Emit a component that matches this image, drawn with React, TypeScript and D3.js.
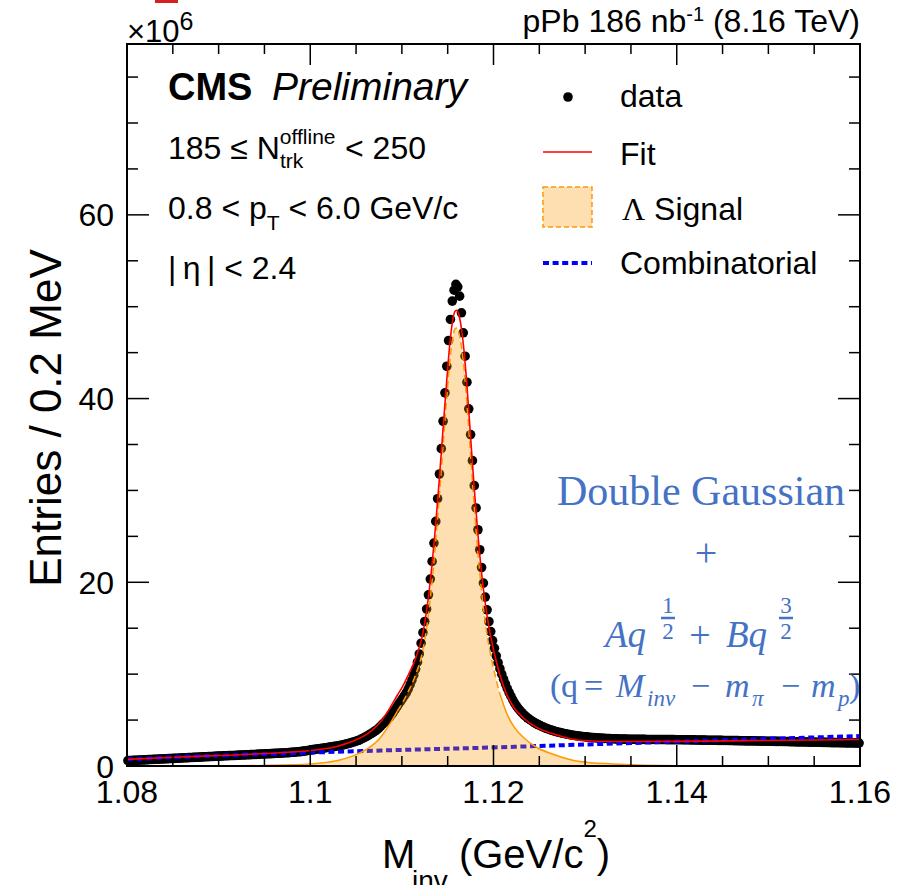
import React, { useRef, useEffect } from "react";
import * as d3 from "d3";

const SANS = "'Liberation Sans', Arial, Helvetica, sans-serif";
const SERIF = "'Liberation Serif', 'Times New Roman', serif";
const NOTE_BLUE = "#4472c4";

// entries per 0.2 MeV bin (x10^6), first bin starts at 1.080 GeV
const binLow = 1.08;
const binWidth = 0.0002;
const entries = [
  0.58, 0.59, 0.60, 0.61, 0.62, 0.63, 0.64, 0.65, 0.66, 0.67,
  0.68, 0.69, 0.70, 0.71, 0.72, 0.73, 0.74, 0.75, 0.76, 0.77,
  0.78, 0.79, 0.80, 0.81, 0.82, 0.83, 0.84, 0.85, 0.86, 0.87,
  0.88, 0.89, 0.90, 0.91, 0.92, 0.93, 0.94, 0.95, 0.96, 0.97,
  0.98, 0.99, 1.00, 1.01, 1.02, 1.03, 1.04, 1.05, 1.06, 1.07,
  1.08, 1.09, 1.10, 1.11, 1.12, 1.13, 1.14, 1.14, 1.15, 1.16,
  1.17, 1.18, 1.19, 1.20, 1.21, 1.22, 1.23, 1.24, 1.25, 1.26,
  1.27, 1.28, 1.29, 1.30, 1.31, 1.32, 1.33, 1.34, 1.35, 1.36,
  1.37, 1.38, 1.39, 1.40, 1.41, 1.42, 1.44, 1.45, 1.46, 1.48,
  1.49, 1.51, 1.53, 1.55, 1.57, 1.59, 1.62, 1.65, 1.68, 1.71,
  1.75, 1.78, 1.81, 1.84, 1.87, 1.90, 1.93, 1.96, 1.99, 2.02,
  2.05, 2.08, 2.11, 2.14, 2.17, 2.20, 2.24, 2.28, 2.33, 2.38,
  2.43, 2.49, 2.55, 2.61, 2.67, 2.73, 2.80, 2.90, 3.00, 3.10,
  3.21, 3.32, 3.44, 3.56, 3.69, 3.82, 3.95, 4.15, 4.35, 4.55,
  4.75, 4.95, 5.15, 5.35, 5.62, 5.90, 6.20, 6.50, 6.82, 7.10,
  7.40, 7.70, 8.00, 8.40, 8.85, 9.35, 9.90, 10.55, 11.30, 12.20,
  13.37, 14.53, 15.73, 17.08, 18.64, 20.35, 22.27, 24.27, 26.63, 29.10,
  31.79, 34.55, 37.53, 40.62, 43.52, 46.32, 48.61, 50.61, 51.80, 52.43,
  52.17, 51.15, 49.34, 47.16, 44.61, 41.78, 38.88, 36.08, 33.24, 30.52,
  28.09, 25.72, 23.54, 21.61, 19.91, 18.39, 17.00, 15.73, 14.64, 13.66,
  12.83, 11.99, 11.25, 10.60, 10.00, 9.45, 8.95, 8.45, 8.00, 7.60,
  7.20, 6.85, 6.55, 6.28, 6.03, 5.80, 5.60, 5.42, 5.25, 5.10,
  4.96, 4.83, 4.71, 4.60, 4.49, 4.39, 4.30, 4.21, 4.13, 4.05,
  3.98, 3.91, 3.85, 3.79, 3.73, 3.68, 3.63, 3.58, 3.54, 3.50,
  3.46, 3.42, 3.38, 3.35, 3.32, 3.29, 3.26, 3.23, 3.21, 3.19,
  3.17, 3.15, 3.13, 3.11, 3.09, 3.07, 3.06, 3.05, 3.03, 3.02,
  3.01, 3.00, 2.99, 2.98, 2.97, 2.96, 2.95, 2.95, 2.94, 2.94,
  2.93, 2.93, 2.93, 2.92, 2.92, 2.92, 2.91, 2.91, 2.91, 2.90,
  2.90, 2.90, 2.90, 2.89, 2.89, 2.89, 2.89, 2.89, 2.88, 2.88,
  2.88, 2.88, 2.88, 2.88, 2.87, 2.87, 2.87, 2.87, 2.87, 2.86,
  2.86, 2.86, 2.86, 2.85, 2.85, 2.85, 2.85, 2.84, 2.84, 2.84,
  2.83, 2.83, 2.83, 2.82, 2.82, 2.82, 2.81, 2.81, 2.81, 2.80,
  2.80, 2.80, 2.79, 2.79, 2.79, 2.78, 2.78, 2.78, 2.77, 2.77,
  2.77, 2.76, 2.76, 2.76, 2.75, 2.75, 2.75, 2.74, 2.74, 2.74,
  2.73, 2.73, 2.73, 2.72, 2.72, 2.72, 2.71, 2.71, 2.70, 2.70,
  2.70, 2.69, 2.69, 2.68, 2.68, 2.68, 2.67, 2.67, 2.66, 2.66,
  2.66, 2.65, 2.65, 2.64, 2.64, 2.63, 2.63, 2.63, 2.62, 2.62,
  2.61, 2.61, 2.60, 2.60, 2.60, 2.59, 2.59, 2.58, 2.58, 2.57,
  2.57, 2.57, 2.56, 2.56, 2.55, 2.55, 2.55, 2.54, 2.54, 2.53,
  2.53, 2.53, 2.52, 2.52, 2.51, 2.51, 2.51, 2.50, 2.50, 2.50,
];

// total fit
const fitMass = [
  1.0800, 1.0850, 1.0900, 1.0950, 1.1000, 1.1030, 1.1050, 1.1065, 1.1075, 1.1085,
  1.1095, 1.1101, 1.1107, 1.1113, 1.1117, 1.1121, 1.1125, 1.1129, 1.1133, 1.1137,
  1.1141, 1.1145, 1.1149, 1.1152, 1.1155, 1.1158, 1.1160, 1.1162, 1.1165, 1.1168,
  1.1171, 1.1175, 1.1179, 1.1183, 1.1187, 1.1191, 1.1195, 1.1199, 1.1203, 1.1207,
  1.1214, 1.1222, 1.1233, 1.1247, 1.1265, 1.1294, 1.1330, 1.1400, 1.1500, 1.1600,
];
const fitValues = [
  0.72, 0.95, 1.14, 1.36, 1.68, 2.15, 2.85, 3.70, 4.60, 6.00,
  7.70, 8.70, 9.90, 11.20, 12.30, 13.60, 15.60, 18.40, 22.00, 26.40,
  31.40, 36.80, 42.00, 45.60, 48.20, 49.50, 49.60, 49.20, 47.60, 45.00,
  41.40, 35.80, 30.20, 25.20, 21.00, 17.70, 15.10, 13.10, 11.40, 9.90,
  7.90, 6.40, 5.20, 4.20, 3.50, 2.80, 2.66, 2.68, 2.78, 2.88,
];

// Lambda signal (double Gaussian)
const signalMass = [
  1.0800, 1.0900, 1.0950, 1.1000, 1.1030, 1.1050, 1.1065, 1.1075, 1.1085, 1.1095,
  1.1101, 1.1107, 1.1113, 1.1117, 1.1121, 1.1125, 1.1129, 1.1133, 1.1137, 1.1141,
  1.1145, 1.1149, 1.1152, 1.1155, 1.1158, 1.1160, 1.1162, 1.1165, 1.1168, 1.1171,
  1.1175, 1.1179, 1.1183, 1.1187, 1.1191, 1.1195, 1.1199, 1.1203, 1.1207, 1.1214,
  1.1222, 1.1233, 1.1247, 1.1265, 1.1294, 1.1330, 1.1400, 1.1600,
];
const signalValues = [
  0, 0.01, 0.06, 0.22, 0.60, 1.24, 2.05, 2.92, 4.29, 5.96,
  6.95, 8.13, 9.41, 10.50, 11.79, 13.78, 16.57, 20.16, 24.55, 29.54,
  34.93, 40.12, 43.71, 46.30, 47.60, 47.69, 47.29, 45.68, 43.07, 39.46,
  33.85, 28.24, 23.23, 19.02, 15.72, 13.11, 11.10, 9.37, 7.86, 5.84,
  4.31, 3.08, 2.04, 1.28, 0.49, 0.22, 0.02, 0,
];

// combinatorial background
const combMass = [
  1.080, 1.085, 1.090, 1.095, 1.100, 1.105, 1.110, 1.115, 1.120,
  1.125, 1.130, 1.135, 1.140, 1.145, 1.150, 1.155, 1.160,
];
const combValues = [
  0.72, 0.95, 1.13, 1.30, 1.46, 1.61, 1.75, 1.88, 2.02,
  2.18, 2.34, 2.50, 2.66, 2.81, 2.96, 3.11, 3.26,
];

const xMajor = [1.08, 1.1, 1.12, 1.14, 1.16];
const xLabels = ["1.08", "1.1", "1.12", "1.14", "1.16"];
const yMajor = [0, 20, 40, 60];
const yLabels = ["0", "20", "40", "60"];

const App = () => {
  const svgRef = useRef(null);

  useEffect(() => {
    const svg = d3.select(svgRef.current);
    svg.selectAll("*").remove();

    const left = 127, right = 860, top = 44, bottom = 766;
    const x = d3.scaleLinear().domain([1.08, 1.16]).range([left, right]);
    const y = d3.scaleLinear().domain([0, 78.6]).range([bottom, top]);

    svg.append("defs").append("clipPath").attr("id", "plot-clip")
      .append("rect")
      .attr("x", left).attr("y", top)
      .attr("width", right - left).attr("height", bottom - top);

    const plot = svg.append("g");
    const clipped = svg.append("g").attr("clip-path", "url(#plot-clip)");

    /*** data points ***/
    const bins = entries.map((v, i) => ({ m: binLow + binWidth * (i + 0.5), v }));
    plot.selectAll("circle.data")
      .data(bins)
      .enter()
      .append("circle")
      .attr("class", "data")
      .attr("cx", (d) => x(d.m))
      .attr("cy", (d) => y(d.v))
      .attr("r", 4.8)
      .attr("fill", "#000");

    const line = d3.line().x((d) => x(d.m)).y((d) => y(d.v)).curve(d3.curveMonotoneX);

    /*** combinatorial ***/
    const comb = combMass.map((m, i) => ({ m, v: combValues[i] }));
    clipped.append("path")
      .datum(comb)
      .attr("d", line)
      .attr("fill", "none")
      .attr("stroke", "#0000ff")
      .attr("stroke-width", 4)
      .attr("stroke-dasharray", "6,3.6");

    /*** signal ***/
    const signal = signalMass.map((m, i) => ({ m, v: signalValues[i] }));
    const area = d3.area().x((d) => x(d.m)).y0(y(0)).y1((d) => y(d.v)).curve(d3.curveMonotoneX);
    clipped.append("path")
      .datum(signal)
      .attr("d", area)
      .attr("fill", "rgb(250,150,0)")
      .attr("fill-opacity", 0.3);

    const tailL = signal.filter((d) => d.m <= 1.1095);
    const tailR = signal.filter((d) => d.m >= 1.1207);
    const core = signal.filter((d) => d.m >= 1.1095 && d.m <= 1.1207);
    [tailL, tailR].forEach((part) => {
      clipped.append("path")
        .datum(part)
        .attr("d", line)
        .attr("fill", "none")
        .attr("stroke", "#ff9900")
        .attr("stroke-width", 1.5);
    });
    clipped.append("path")
      .datum(core)
      .attr("d", line)
      .attr("fill", "none")
      .attr("stroke", "#ff9900")
      .attr("stroke-width", 1.5)
      .attr("stroke-dasharray", "7,4");

    /*** fit ***/
    const fit = fitMass.map((m, i) => ({ m, v: fitValues[i] }));
    clipped.append("path")
      .datum(fit)
      .attr("d", line)
      .attr("fill", "none")
      .attr("stroke", "#ff0000")
      .attr("stroke-width", 1.6);

    /*** frame + ticks ***/
    const axes = svg.append("g").attr("stroke", "#000").attr("stroke-width", 1.5);
    const xMinor = d3.range(0, 17).map((i) => 1.08 + i * 0.005);
    const yMinor = d3.range(0, 16).map((i) => i * 5);

    xMinor.forEach((m) => {
      const len = xMajor.some((t) => Math.abs(t - m) < 1e-6) ? 21 : 10;
      axes.append("line").attr("x1", x(m)).attr("x2", x(m)).attr("y1", bottom).attr("y2", bottom - len);
      axes.append("line").attr("x1", x(m)).attr("x2", x(m)).attr("y1", top).attr("y2", top + len);
    });
    yMinor.forEach((v) => {
      const len = yMajor.includes(v) ? 22 : 11;
      axes.append("line").attr("x1", left).attr("x2", left + len).attr("y1", y(v)).attr("y2", y(v));
      axes.append("line").attr("x1", right).attr("x2", right - len).attr("y1", y(v)).attr("y2", y(v));
    });
    svg.append("rect")
      .attr("x", left).attr("y", top)
      .attr("width", right - left).attr("height", bottom - top)
      .attr("fill", "none").attr("stroke", "#000").attr("stroke-width", 2);

    const labels = svg.append("g").attr("font-family", SANS).attr("fill", "#000");
    labels.selectAll("text.xl")
      .data(xMajor)
      .enter()
      .append("text")
      .attr("x", (d) => x(d))
      .attr("y", 803)
      .attr("text-anchor", "middle")
      .attr("font-size", 32)
      .text((d, i) => xLabels[i]);
    labels.selectAll("text.yl")
      .data(yMajor)
      .enter()
      .append("text")
      .attr("x", 114)
      .attr("y", (d) => y(d) + 11.5)
      .attr("text-anchor", "end")
      .attr("font-size", 32)
      .text((d, i) => yLabels[i]);

    // x10^6
    const mult = labels.append("text").attr("x", 127).attr("y", 42).attr("font-size", 31).text("\u00d710");
    mult.append("tspan").attr("font-size", 25).attr("dy", -12).text("6");
    svg.append("rect").attr("x", 155).attr("y", 0).attr("width", 23).attr("height", 3).attr("fill", "#d42020");

    // axis titles
    labels.append("text")
      .attr("transform", "translate(61,418) rotate(-90)")
      .attr("text-anchor", "middle")
      .attr("font-size", 44)
      .text("Entries / 0.2 MeV");
    const xt = labels.append("text").attr("x", 382).attr("y", 868).attr("font-size", 40);
    xt.append("tspan").text("M");
    xt.append("tspan").attr("x", 412).attr("dy", 22).attr("font-size", 28).text("inv");
    xt.append("tspan").attr("dy", -22).text(" (GeV/c");
    xt.append("tspan").attr("dy", -31).attr("font-size", 24).text("2");
    xt.append("tspan").attr("dy", 31).text(")");

    // header
    const hdr = labels.append("text").attr("x", 860).attr("y", 32).attr("text-anchor", "end").attr("font-size", 32);
    hdr.append("tspan").text("pPb 186 nb");
    hdr.append("tspan").attr("dy", -11).attr("font-size", 20).text("-1");
    hdr.append("tspan").attr("dy", 11).text(" (8.16 TeV)");

    // CMS Preliminary
    labels.append("text").attr("x", 168).attr("y", 100).attr("font-size", 38).attr("font-weight", "bold").text("CMS");
    labels.append("text").attr("x", 272).attr("y", 100).attr("font-size", 39).attr("font-style", "italic").text("Preliminary");

    // selection text
    const t1 = labels.append("text").attr("x", 168).attr("y", 159).attr("font-size", 32);
    t1.append("tspan").text("185 \u2264 N");
    t1.append("tspan").attr("dy", -15).attr("font-size", 21).text("offline");
    t1.append("tspan").attr("x", 280).attr("dy", 24).attr("font-size", 21).text("trk");
    t1.append("tspan").attr("x", 345).attr("dy", -9).text("< 250");

    const t2 = labels.append("text").attr("x", 168).attr("y", 219).attr("font-size", 32);
    t2.append("tspan").text("0.8 < p");
    t2.append("tspan").attr("dy", 11).attr("font-size", 21).text("T");
    t2.append("tspan").attr("dy", -11).text(" < 6.0 GeV/c");

    labels.append("text").attr("x", 168).attr("y", 279).attr("font-size", 32).text("|\u2009\u03b7\u2009| < 2.4");

    /*** legend ***/
    const leg = svg.append("g");
    leg.append("circle").attr("cx", 568).attr("cy", 97).attr("r", 4.8).attr("fill", "#000");
    leg.append("line").attr("x1", 543).attr("x2", 592).attr("y1", 152).attr("y2", 152)
      .attr("stroke", "#ff0000").attr("stroke-width", 1.5);
    leg.append("rect").attr("x", 543).attr("y", 187).attr("width", 49).attr("height", 40)
      .attr("fill", "rgb(250,150,0)").attr("fill-opacity", 0.3)
      .attr("stroke", "#ff9900").attr("stroke-width", 1.5).attr("stroke-dasharray", "5,3");
    leg.append("line").attr("x1", 543).attr("x2", 592).attr("y1", 263).attr("y2", 263)
      .attr("stroke", "#0000ff").attr("stroke-width", 4).attr("stroke-dasharray", "6,3.6");
    const legText = leg.append("g").attr("font-family", SANS).attr("font-size", 32);
    legText.append("text").attr("x", 620).attr("y", 107).text("data");
    legText.append("text").attr("x", 620).attr("y", 165).text("Fit");
    const sig = legText.append("text").attr("x", 622).attr("y", 220);
    sig.append("tspan").attr("font-family", SERIF).text("\u039b");
    sig.append("tspan").text(" Signal");
    legText.append("text").attr("x", 620).attr("y", 274).text("Combinatorial");

    /*** annotation ***/
    const note = svg.append("g").attr("font-family", SERIF).attr("fill", NOTE_BLUE);
    note.append("text").attr("x", 701).attr("y", 505).attr("text-anchor", "middle").attr("font-size", 42).text("Double Gaussian");
    note.append("text").attr("x", 706).attr("y", 566).attr("text-anchor", "middle").attr("font-size", 40).text("+");

    note.append("text").attr("x", 605).attr("y", 647).attr("font-size", 37).attr("font-style", "italic").text("Aq");
    note.append("text").attr("x", 700).attr("y", 648).attr("text-anchor", "middle").attr("font-size", 38).text("+");
    note.append("text").attr("x", 726).attr("y", 647).attr("font-size", 37).attr("font-style", "italic").text("Bq");
    [[668, "1"], [786, "3"]].forEach(([cx, num]) => {
      note.append("text").attr("x", cx).attr("y", 613).attr("text-anchor", "middle").attr("font-size", 23).text(num);
      note.append("line").attr("x1", cx - 7).attr("x2", cx + 7).attr("y1", 618).attr("y2", 618)
        .attr("stroke", NOTE_BLUE).attr("stroke-width", 2.5);
      note.append("text").attr("x", cx).attr("y", 639).attr("text-anchor", "middle").attr("font-size", 23).text("2");
    });

    const q = note.append("text").attr("y", 697).attr("font-size", 34);
    const piece = (px, s, opts = {}) => {
      const sp = q.append("tspan").attr("x", px).text(s);
      if (opts.italic) sp.attr("font-style", "italic");
      if (opts.sub) sp.attr("font-size", 23).attr("y", 706);
      else sp.attr("y", 697);
      return sp;
    };
    piece(550, "(");
    piece(561, "q");
    piece(584, "=");
    piece(616, "M", { italic: true });
    piece(647, "inv", { italic: true, sub: true });
    piece(691, "\u2212");
    piece(725, "m", { italic: true });
    piece(752, "\u03c0", { italic: true, sub: true });
    piece(781, "\u2212");
    piece(811, "m", { italic: true });
    piece(838, "p", { italic: true, sub: true });
    piece(849, ")");
  }, []);

  return (
    <div style={{ position: "absolute", left: 0, top: 0 }}>
      <svg ref={svgRef} width={900} height={885} style={{ display: "block" }}></svg>
    </div>
  );
};

export default App;
